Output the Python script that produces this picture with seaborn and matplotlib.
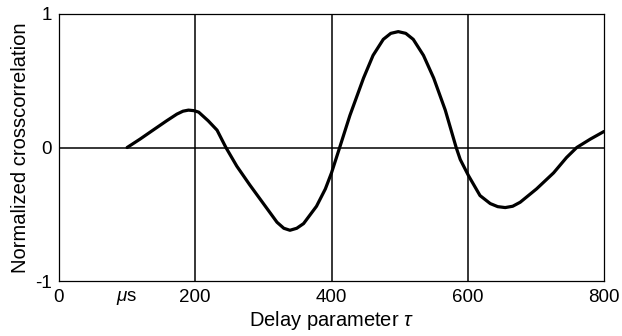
import matplotlib
matplotlib.use("Agg")
import matplotlib.pyplot as plt
import seaborn as sns
import pandas as pd

# Normalized crosscorrelation versus delay parameter (in microseconds)
delay_us = [100, 119, 138, 158, 173, 182, 190, 198, 205, 219, 232, 245, 261,
            280, 300, 320, 330, 339, 349, 359, 378, 391, 400, 412, 427, 447,
            461, 476, 487, 498, 509, 520, 535, 550, 567, 583, 589, 601, 618,
            633, 644, 655, 666, 677, 701, 726, 745, 760, 780, 800]
crosscorr = [0.0, 0.063, 0.13, 0.20, 0.25, 0.272, 0.28, 0.276, 0.265, 0.20,
             0.13, 0.0, -0.14, -0.28, -0.42, -0.56, -0.605, -0.62, -0.605,
             -0.57, -0.44, -0.31, -0.19, 0.0, 0.24, 0.52, 0.69, 0.81, 0.855,
             0.868, 0.855, 0.81, 0.69, 0.52, 0.28, 0.0, -0.09, -0.21, -0.36,
             -0.42, -0.443, -0.45, -0.44, -0.41, -0.31, -0.19, -0.075, 0.0,
             0.063, 0.12]

x_ticks = [0, 100, 200, 400, 600, 800]
x_tick_labels = ["0", r"$\mu$s", "200", "400", "600", "800"]
y_ticks = [-1, 0, 1]
y_tick_labels = ["-1", "0", "1"]
grid_x = [200, 400, 600]
grid_y = [0]

sns.set_theme(style="white")
plt.rcParams["font.family"] = ["Liberation Sans", "DejaVu Sans"]
plt.rcParams["mathtext.fontset"] = "custom"
plt.rcParams["mathtext.rm"] = "Liberation Sans"
plt.rcParams["mathtext.it"] = "Liberation Sans:italic"

df = pd.DataFrame({"delay": delay_us, "corr": crosscorr})

fig = plt.figure(figsize=(6.22, 3.36), dpi=100)
ax = fig.add_axes([59 / 622, 1 - 281 / 336, (604 - 59) / 622, (281 - 14) / 336])

for gx in grid_x:
    ax.axvline(gx, color="black", lw=1.1, zorder=1)
for gy in grid_y:
    ax.axhline(gy, color="black", lw=1.1, zorder=1)

sns.lineplot(data=df, x="delay", y="corr", ax=ax, color="black", lw=2.3,
             sort=False, zorder=3, solid_joinstyle="round",
             solid_capstyle="round")

ax.set_xlim(0, 800)
ax.set_ylim(-1, 1)
ax.set_xticks(x_ticks)
ax.set_xticklabels(x_tick_labels)
ax.set_yticks(y_ticks)
ax.set_yticklabels(y_tick_labels)
ax.tick_params(axis="both", length=0, labelsize=13.5, colors="black")
ax.tick_params(axis="x", pad=6)
ax.tick_params(axis="y", pad=5)

for spine in ax.spines.values():
    spine.set_color("black")
    spine.set_linewidth(0.9)

ax.set_xlabel(r"Delay parameter $\tau$", fontsize=14.5, color="black", labelpad=1)
ax.set_ylabel("Normalized crosscorrelation", fontsize=14.5, color="black", labelpad=4)

fig.savefig("out.png", dpi=100, facecolor="white")
